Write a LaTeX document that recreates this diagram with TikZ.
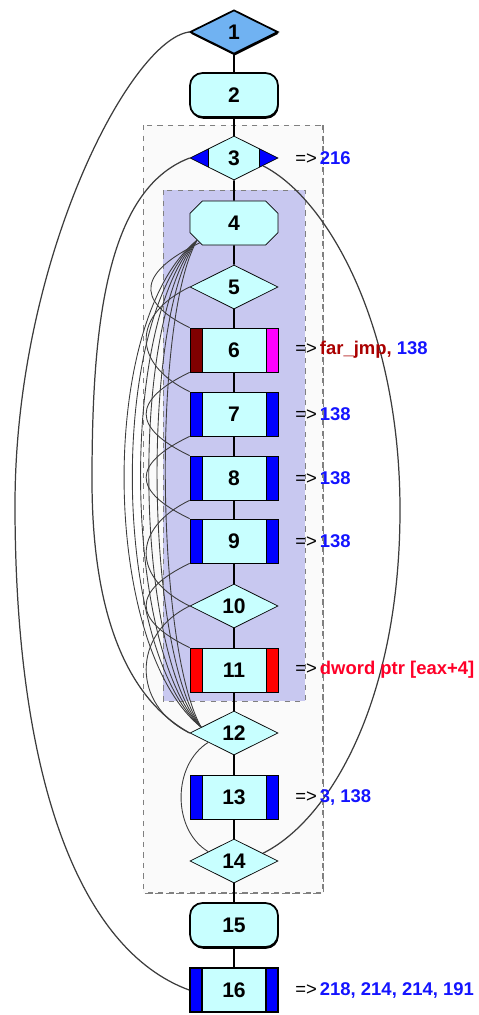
\documentclass[tikz,border=0pt]{standalone}
\usepackage{fontspec}
\setsansfont{Liberation Sans}
\usetikzlibrary{shapes,positioning,calc,shadows}

\definecolor{nodecyan}{RGB}{200,255,255}
\definecolor{entryblue}{RGB}{112,178,242}
\definecolor{loopfill}{RGB}{200,200,240}
\definecolor{regionfill}{RGB}{250,250,250}
\definecolor{regionline}{RGB}{128,128,128}
\definecolor{stripblue}{RGB}{0,0,255}
\definecolor{stripmaroon}{RGB}{128,0,0}
\definecolor{stripmagenta}{RGB}{255,0,255}
\definecolor{stripred}{RGB}{255,0,0}
\definecolor{xrefblue}{RGB}{20,20,255}
\definecolor{xrefred}{RGB}{255,0,40}
\definecolor{xrefmaroon}{RGB}{170,0,0}
\definecolor{edgegray}{RGB}{60,60,60}

\tikzset{
  block/.style={draw, fill=nodecyan, minimum width=1.76cm, minimum height=0.88cm,
    inner sep=0pt, font=\sffamily\bfseries\fontsize{12}{14}\selectfont},
  decision/.style={block, diamond, aspect=2},
  terminal/.style={block, rounded corners=0.25cm, line width=1pt,
    drop shadow={shadow xshift=0.4pt, shadow yshift=-1pt, fill=black, opacity=1}},
  octabox/.style={block, chamfered rectangle, chamfered rectangle xsep=0.22cm},
  stripbox/.style 2 args={block, path picture={
    \fill[#1] (path picture bounding box.south west) rectangle ([xshift=0.24cm]path picture bounding box.north west);
    \fill[#2] ([xshift=-0.24cm]path picture bounding box.south east) rectangle (path picture bounding box.north east);
    \draw ([xshift=0.24cm]path picture bounding box.south west) -- ([xshift=0.24cm]path picture bounding box.north west);
    \draw ([xshift=-0.24cm]path picture bounding box.south east) -- ([xshift=-0.24cm]path picture bounding box.north east);
  }},
  tipdecision/.style={decision, path picture={
    \fill[stripblue] (path picture bounding box.south west) rectangle ([xshift=0.36cm]path picture bounding box.north west);
    \fill[stripblue] ([xshift=-0.36cm]path picture bounding box.south east) rectangle (path picture bounding box.north east);
    \draw ([xshift=0.36cm]path picture bounding box.south west) -- ([xshift=0.36cm]path picture bounding box.north west);
    \draw ([xshift=-0.36cm]path picture bounding box.south east) -- ([xshift=-0.36cm]path picture bounding box.north east);
  }},
  flowline/.style={line width=1pt},
  jump/.style={edgegray, line width=0.5pt},
  longjump/.style={edgegray, line width=0.7pt},
  xref/.style={anchor=west, inner sep=0pt, font=\sffamily\fontsize{10.5}{12}\selectfont},
}

\begin{document}
\begin{tikzpicture}[x=0.02cm, y=-0.02cm]
    \useasboundingbox (0,0) rectangle (479,1015);

    % regions
    \draw[regionline, dashed, fill=regionfill] (143,125) rectangle (323,893);
    \draw[regionline, dashed, line width=1.5pt] (323,125) -- (323,893) -- (143,893);
    \draw[regionline, dashed, fill=loopfill] (163,190) rectangle (305,701);

    % blocks
    \node[decision, fill=entryblue, line width=1pt,
      drop shadow={shadow xshift=0.4pt, shadow yshift=-1pt, fill=black, opacity=1}] (n1) at (234,32) {1};
    \node[terminal] (n2) at (234,95) {2};
    \node[tipdecision] (n3) at (234,158) {3};
    \node[octabox] (n4) at (234,223) {4};
    \node[decision] (n5) at (234,287) {5};
    \node[stripbox={stripmaroon}{stripmagenta}] (n6) at (234,350) {6};
    \node[stripbox={stripblue}{stripblue}] (n7) at (234,414) {7};
    \node[stripbox={stripblue}{stripblue}] (n8) at (234,478) {8};
    \node[stripbox={stripblue}{stripblue}] (n9) at (234,541) {9};
    \node[decision] (n10) at (234,606) {10};
    \node[stripbox={stripred}{stripred}] (n11) at (234,670) {11};
    \node[decision] (n12) at (234,733) {12};
    \node[stripbox={stripblue}{stripblue}] (n13) at (234,797) {13};
    \node[decision] (n14) at (234,861) {14};
    \node[terminal] (n15) at (234,925) {15};
    \node[stripbox={stripblue}{stripblue}, line width=1pt] (n16) at (234,990) {16};

    % straight flow
    \foreach \a/\b in {1/2,2/3,3/4,4/5,5/6,6/7,7/8,8/9,9/10,10/11,11/12,12/13,13/14,14/15,15/16}
      \draw[flowline] (n\a) -- (n\b);

    % jumps
    \draw[longjump] (n1.west) .. controls (130,40) and (15,260) .. (15,505)
      .. controls (15,780) and (80,950) .. (n16.west);
    \draw[longjump] (n3.west) .. controls (105,190) and (92,330) .. (92,480)
      .. controls (92,620) and (130,700) .. (n12.west);
    \draw[longjump] (n3.-15) .. controls (330,200) and (400,330) .. (400,510)
      .. controls (400,700) and (330,820) .. (n14.15);
    \draw[jump] (n12.200) .. controls (172,765) and (172,830) .. (n14.160);
    \foreach \d in {45,56,67,78,89,100}
      \draw[jump] (n4.205) .. controls +(-\d,80) and +(-\d,-80) .. (n12.170);
    \foreach \a/\b in {n4.210/n6.north west, n5.west/n7.north west, n6.south west/n8.north west,
        n7.south west/n9.north west, n8.south west/n10.west, n9.south west/n11.north west,
        n10.west/n12.west}
      \draw[jump] (\a) .. controls +(-58,28) and +(-58,-28) .. (\b);

    % targets
    \node[xref] (x3) at (295,158) {=>\,\textbf{\color{xrefblue}216}};
    \node[xref] (x6) at (295,350) {=>\,\textbf{\color{xrefmaroon}far\_jmp, \color{xrefblue}138}};
    \node[xref] (x7) at (295,414) {=>\,\textbf{\color{xrefblue}138}};
    \node[xref] (x8) at (295,478) {=>\,\textbf{\color{xrefblue}138}};
    \node[xref] (x9) at (295,541) {=>\,\textbf{\color{xrefblue}138}};
    \node[xref] (x11) at (295,670) {=>\,\textbf{\color{xrefred}dword ptr [eax+4]}};
    \node[xref] (x13) at (295,797) {=>\,\textbf{\color{xrefblue}3, 138}};
    \node[xref] (x16) at (295,990) {=>\,\textbf{\color{xrefblue}218, 214, 214, 191}};
\end{tikzpicture}
\end{document}
